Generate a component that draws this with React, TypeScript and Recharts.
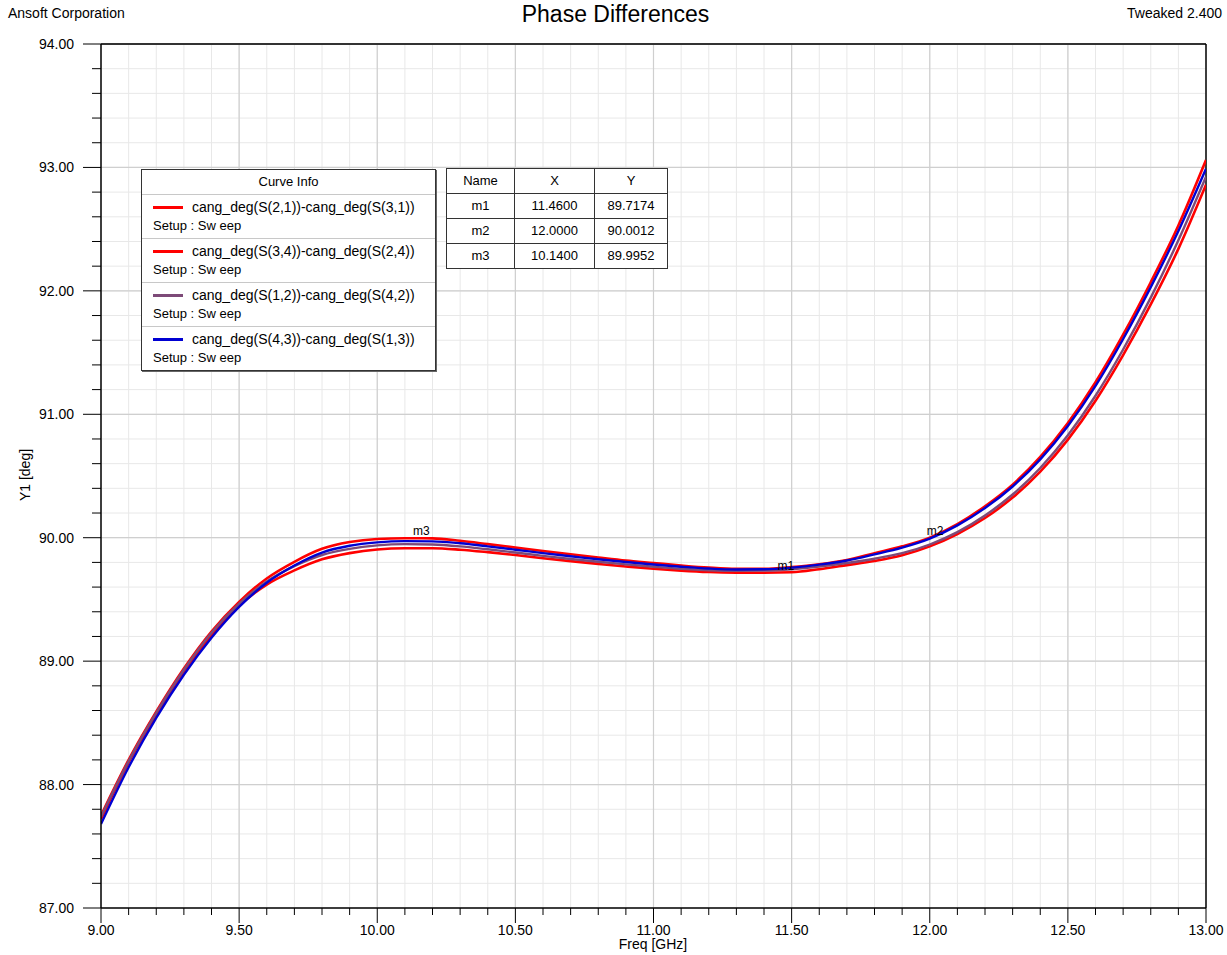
import React from 'react';
import { LineChart, Line, XAxis, YAxis, CartesianGrid, ReferenceLine, ReferenceDot } from 'recharts';

// frequency sweep, GHz
const freq = [
  9.0, 9.1, 9.2, 9.3, 9.4, 9.5, 9.6, 9.7, 9.8, 9.9,
  10.0, 10.1, 10.2, 10.3, 10.4, 10.5, 10.6, 10.7, 10.8, 10.9,
  11.0, 11.1, 11.2, 11.3, 11.4, 11.5, 11.6, 11.7, 11.8, 11.9,
  12.0, 12.1, 12.2, 12.3, 12.4, 12.5, 12.6, 12.7, 12.8, 12.9, 13.0,
];

// phase differences, deg
const s21_s31 = [
  87.75, 88.2, 88.59, 88.94, 89.24, 89.48, 89.67, 89.805, 89.91, 89.965,
  89.99, 89.996, 89.995, 89.975, 89.948, 89.92, 89.892, 89.866, 89.84, 89.815,
  89.795, 89.775, 89.758, 89.748, 89.748, 89.762, 89.785, 89.82, 89.875, 89.93,
  90.001, 90.11, 90.255, 90.43, 90.655, 90.93, 91.26, 91.645, 92.07, 92.53, 93.06,
];
const s34_s24 = [
  87.72, 88.18, 88.57, 88.92, 89.21, 89.45, 89.62, 89.735, 89.825, 89.875,
  89.905, 89.915, 89.915, 89.903, 89.883, 89.86, 89.834, 89.81, 89.788, 89.767,
  89.748, 89.733, 89.722, 89.717, 89.716, 89.72, 89.745, 89.778, 89.812, 89.858,
  89.93, 90.03, 90.16, 90.325, 90.535, 90.795, 91.11, 91.48, 91.89, 92.34, 92.86,
];
const s12_s42 = [
  87.74, 88.19, 88.58, 88.93, 89.23, 89.465, 89.645, 89.77, 89.86, 89.91,
  89.938, 89.948, 89.945, 89.93, 89.906, 89.88, 89.853, 89.828, 89.805, 89.784,
  89.765, 89.748, 89.737, 89.732, 89.734, 89.745, 89.766, 89.795, 89.83, 89.875,
  89.945, 90.045, 90.18, 90.35, 90.565, 90.83, 91.15, 91.525, 91.945, 92.41, 92.925,
];
const s43_s13 = [
  87.68, 88.14, 88.54, 88.89, 89.19, 89.44, 89.635, 89.775, 89.88, 89.935,
  89.962, 89.972, 89.97, 89.955, 89.93, 89.903, 89.875, 89.85, 89.825, 89.803,
  89.783, 89.765, 89.75, 89.742, 89.744, 89.758, 89.782, 89.815, 89.865, 89.92,
  89.993, 90.1, 90.24, 90.415, 90.635, 90.905, 91.23, 91.61, 92.03, 92.485, 92.99,
];

// markers
const markerNames = ['m1', 'm2', 'm3'];
const markerX = [11.46, 12.0, 10.14];
const markerY = [89.7174, 90.0012, 89.9952];

const traces = [
  { key: 'a', name: 'cang_deg(S(2,1))-cang_deg(S(3,1))', color: '#ff0000', width: 2.6, values: s21_s31 },
  { key: 'b', name: 'cang_deg(S(3,4))-cang_deg(S(2,4))', color: '#ff0000', width: 2.6, values: s34_s24 },
  { key: 'c', name: 'cang_deg(S(1,2))-cang_deg(S(4,2))', color: '#7d4a78', width: 2.4, values: s12_s42 },
  { key: 'd', name: 'cang_deg(S(4,3))-cang_deg(S(1,3))', color: '#0000d2', width: 2.4, values: s43_s13 },
];

const data = freq.map((f, i) => {
  const row: Record<string, number> = { f };
  traces.forEach((t) => { row[t.key] = t.values[i]; });
  return row;
});

const xTicks = Array.from({ length: 41 }, (_, i) => Math.round((9 + i * 0.1) * 10) / 10);
const yTicks = Array.from({ length: 36 }, (_, i) => Math.round((87 + i * 0.2) * 10) / 10);
const xMajor = [9.5, 10, 10.5, 11, 11.5, 12, 12.5];
const yMajor = [88, 89, 90, 91, 92, 93];

const W = 1227;
const H = 955;
const PLOT_LEFT = 101;
const PLOT_BOTTOM = 908;
const FONT = 'Arial, "Liberation Sans", sans-serif';

const isMultiple = (v: number, step: number) => Math.abs(v / step - Math.round(v / step)) < 1e-6;

const YTick = ({ y, payload }: any) => {
  const v = payload.value;
  const major = isMultiple(v, 1);
  return (
    <g>
      <line x1={PLOT_LEFT - (major ? 18 : 9)} x2={PLOT_LEFT} y1={y} y2={y} stroke="#000" />
      {major && (
        <text x={74} y={y + 5} textAnchor="end" fontSize={14} fontFamily={FONT} fill="#000">
          {v.toFixed(2)}
        </text>
      )}
    </g>
  );
};

const XTick = ({ x, payload }: any) => {
  const v = payload.value;
  const major = isMultiple(v, 0.5);
  return (
    <g>
      <line x1={x} x2={x} y1={PLOT_BOTTOM} y2={PLOT_BOTTOM + (major ? 15 : 7)} stroke="#000" />
      {major && (
        <text x={x} y={935} textAnchor="middle" fontSize={14} fontFamily={FONT} fill="#000">
          {v.toFixed(2)}
        </text>
      )}
    </g>
  );
};

const MarkerLabel = (name: string) => (props: any) => {
  const { viewBox } = props;
  const cx = viewBox.x + viewBox.width / 2;
  const cy = viewBox.y + viewBox.height / 2;
  return (
    <text x={cx - 3} y={cy - 3} fontSize={12} fontFamily={FONT} fill="#000">
      {name}
    </text>
  );
};

const cell: React.CSSProperties = {
  borderRight: '1px solid #333',
  borderBottom: '1px solid #333',
  textAlign: 'center',
  height: 24,
  lineHeight: '24px',
  padding: 0,
};

export default function App() {
  return (
    <div style={{ position: 'relative', width: W, height: H, background: '#fff', fontFamily: FONT }}>
      <style>{'body{margin:0;}'}</style>

      <div style={{ position: 'absolute', left: 8, top: 5, fontSize: 14 }}>Ansoft Corporation</div>
      <div style={{ position: 'absolute', left: 0, width: 1231, top: 1, fontSize: 23, textAlign: 'center' }}>
        Phase Differences
      </div>
      <div style={{ position: 'absolute', right: 5, top: 5, fontSize: 14 }}>Tweaked 2.400</div>

      <div style={{ position: 'absolute', left: 0, top: 0 }}>
        <LineChart width={W} height={H} data={data} margin={{ top: 44, right: 21, left: 0, bottom: 0 }}>
          <CartesianGrid stroke="#e8e8e8" strokeWidth={1} />
          {xMajor.map((v) => (
            <ReferenceLine key={`vx${v}`} x={v} stroke="#cfcfcf" strokeWidth={1.2} />
          ))}
          {yMajor.map((v) => (
            <ReferenceLine key={`hy${v}`} y={v} stroke="#cfcfcf" strokeWidth={1.2} />
          ))}
          <ReferenceLine y={94} stroke="#333" strokeWidth={2} />
          <ReferenceLine x={13} stroke="#000" strokeWidth={1.5} />
          <XAxis
            dataKey="f"
            type="number"
            domain={[9, 13]}
            ticks={xTicks}
            interval={0}
            height={47}
            tickLine={false}
            axisLine={{ stroke: '#000', strokeWidth: 1.5 }}
            tick={<XTick />}
            allowDataOverflow
          />
          <YAxis
            type="number"
            domain={[87, 94]}
            ticks={yTicks}
            interval={0}
            width={101}
            tickLine={false}
            axisLine={{ stroke: '#000', strokeWidth: 1.5 }}
            tick={<YTick />}
            allowDataOverflow
          />
          {traces.map((t) => (
            <Line
              key={t.key}
              dataKey={t.key}
              name={t.name}
              type="monotone"
              stroke={t.color}
              strokeWidth={t.width}
              dot={false}
              activeDot={false}
              isAnimationActive={false}
            />
          ))}
          {markerNames.map((m, i) => (
            <ReferenceDot
              key={m}
              x={markerX[i]}
              y={markerY[i]}
              r={0}
              stroke="none"
              fill="none"
              label={MarkerLabel(m)}
            />
          ))}
        </LineChart>
      </div>

      {/* axis titles */}
      <div style={{ position: 'absolute', left: 0, width: 1306, top: 936, fontSize: 14, textAlign: 'center' }}>
        Freq [GHz]
      </div>
      <div
        style={{
          position: 'absolute', left: 25, top: 475, fontSize: 14, whiteSpace: 'nowrap',
          transform: 'translate(-50%, -50%) rotate(-90deg)',
        }}
      >
        Y1 [deg]
      </div>

      {/* curve info box */}
      <div
        style={{
          position: 'absolute', left: 141, top: 169, width: 293, background: '#fff',
          border: '1px solid #333', boxShadow: '1px 1px 0 #666', fontSize: 14,
        }}
      >
        <div style={{ height: 24, lineHeight: '24px', textAlign: 'center', fontSize: 13, borderBottom: '1px solid #c8c8c8' }}>
          Curve Info
        </div>
        {traces.map((t, i) => (
          <div
            key={t.key}
            style={{
              height: 43, borderBottom: i < traces.length - 1 ? '1px solid #c8c8c8' : 'none',
              position: 'relative',
            }}
          >
            <div style={{ position: 'absolute', left: 11, top: 11, width: 30, height: 2.5, background: t.color }} />
            <div style={{ position: 'absolute', left: 50, top: 3, lineHeight: '18px', whiteSpace: 'nowrap' }}>{t.name}</div>
            <div style={{ position: 'absolute', left: 11, top: 22, lineHeight: '18px', fontSize: 13 }}>Setup : Sw eep</div>
          </div>
        ))}
      </div>

      {/* marker table */}
      <table
        style={{
          position: 'absolute', left: 446, top: 168, borderCollapse: 'collapse', background: '#fff',
          borderLeft: '1px solid #333', borderTop: '1px solid #333', fontSize: 13,
        }}
      >
        <tbody>
          <tr>
            <td style={{ ...cell, width: 67 }}>Name</td>
            <td style={{ ...cell, width: 79 }}>X</td>
            <td style={{ ...cell, width: 72 }}>Y</td>
          </tr>
          {markerNames.map((m, i) => (
            <tr key={m}>
              <td style={cell}>{m}</td>
              <td style={cell}>{markerX[i].toFixed(4)}</td>
              <td style={cell}>{markerY[i].toFixed(4)}</td>
            </tr>
          ))}
        </tbody>
      </table>
    </div>
  );
}
